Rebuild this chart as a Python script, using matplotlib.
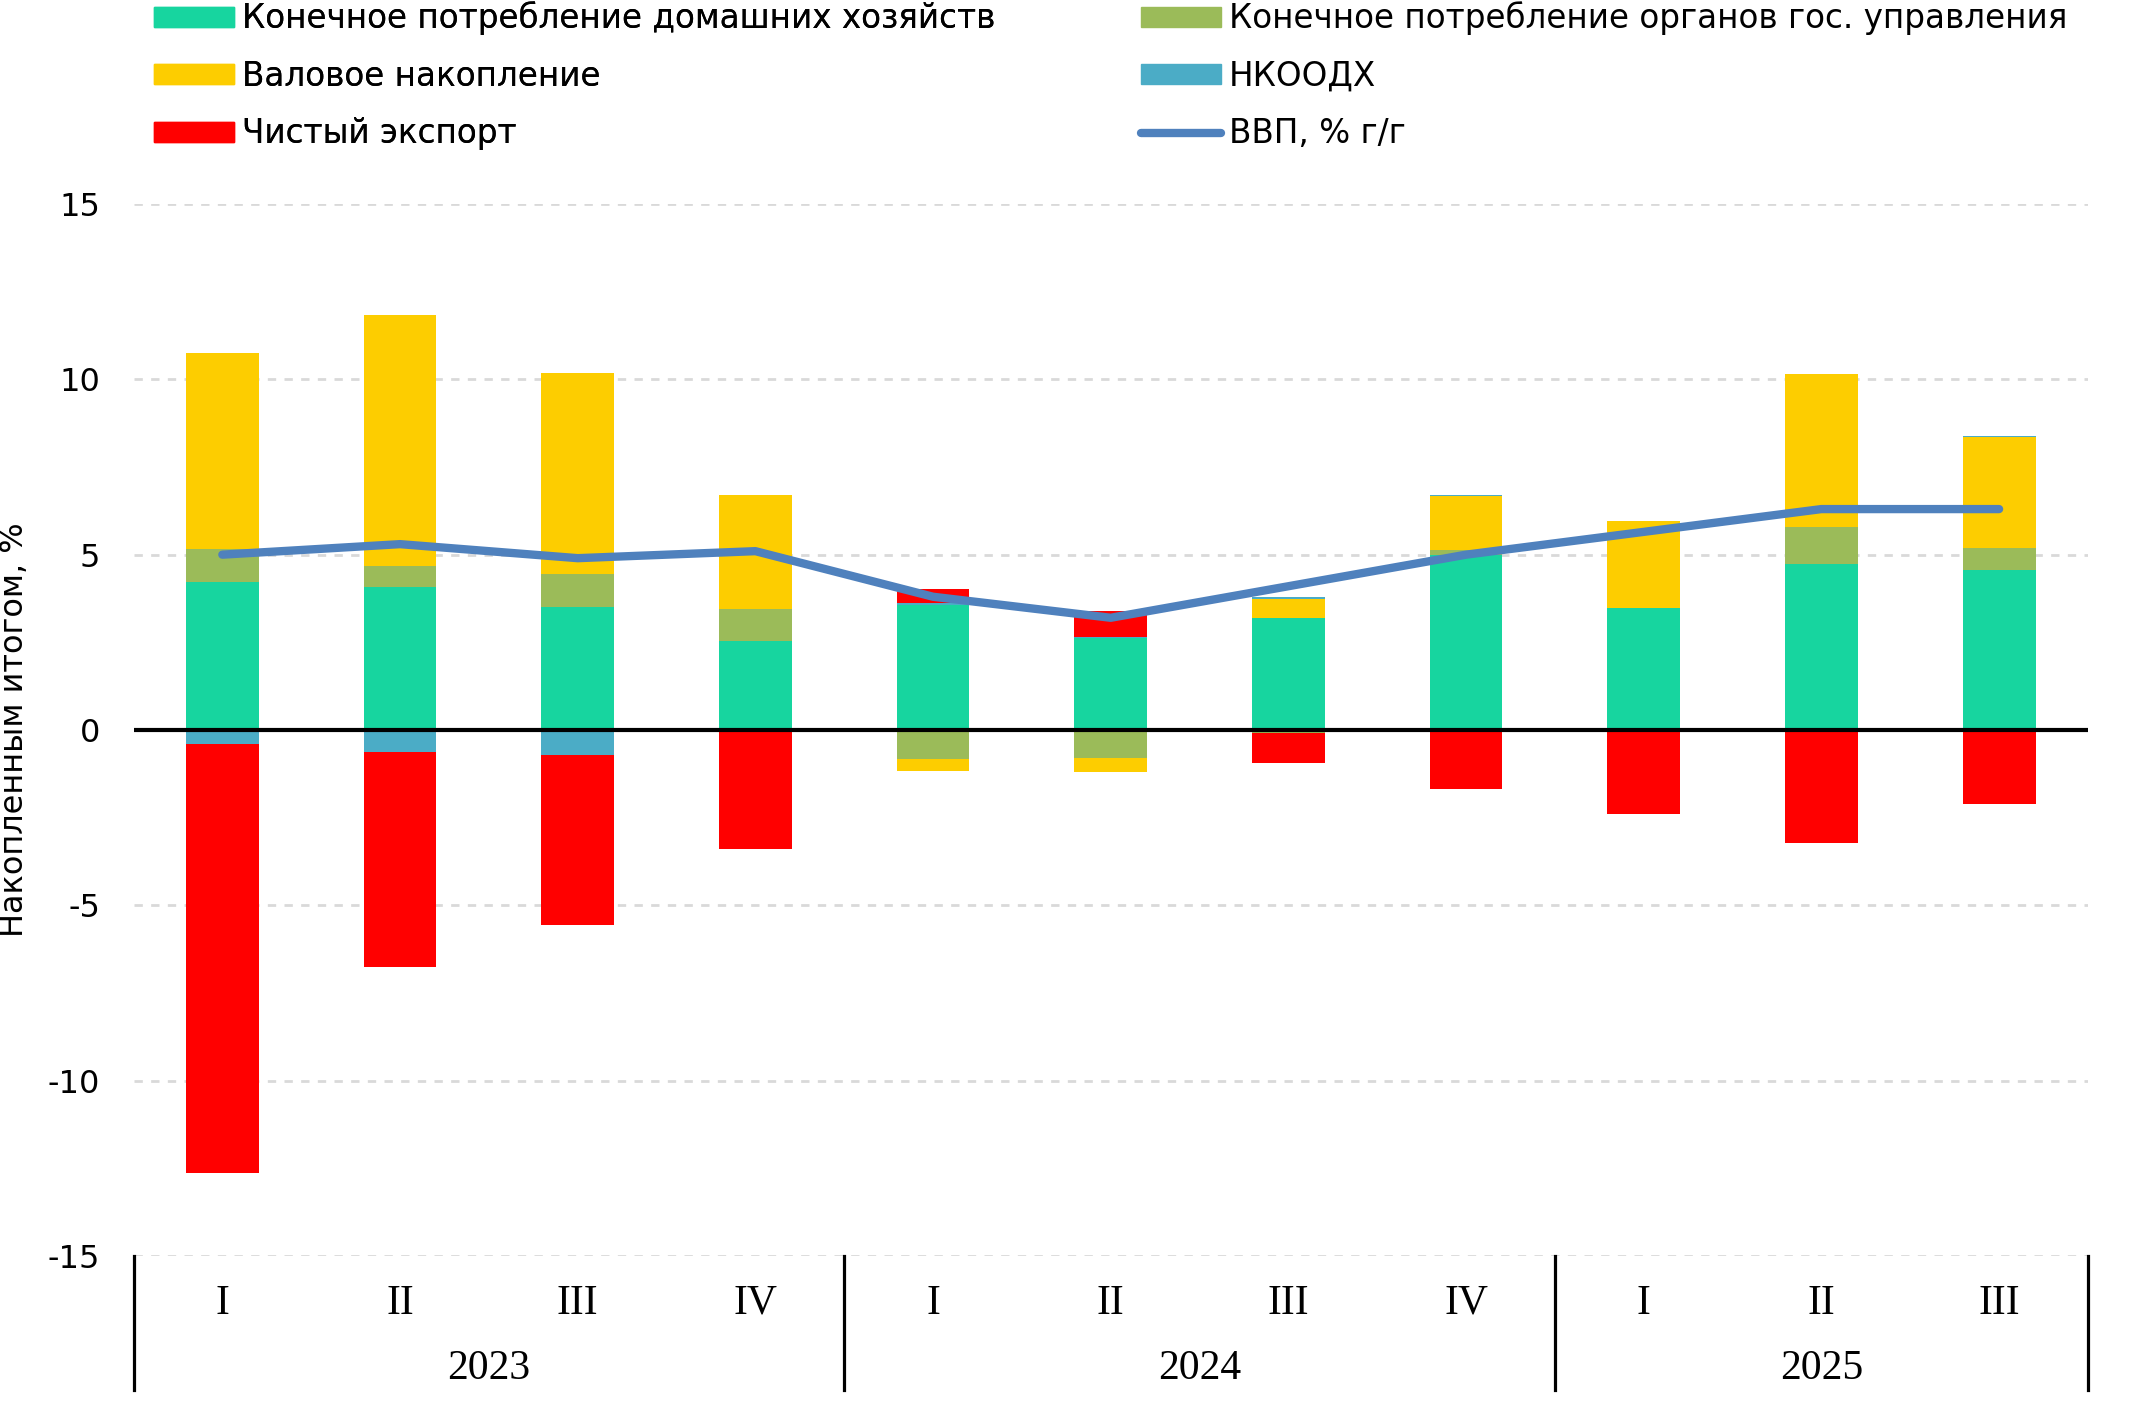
import numpy as np
import matplotlib.pyplot as plt
from matplotlib.patches import Patch
from matplotlib.lines import Line2D

plt.rcParams['font.family'] = ['DejaVu Sans']
plt.rcParams['axes.unicode_minus'] = False

quarters = ['I', 'II', 'III', 'IV', 'I', 'II', 'III', 'IV', 'I', 'II', 'III']
years = ['2023', '2024', '2025']
year_len = [4, 4, 3]

households = [4.23, 4.07, 3.50, 2.54, 3.56, 2.62, 3.19, 4.98, 3.47, 4.74, 4.57]
government = [0.94, 0.60, 0.94, 0.92, -0.83, -0.80, -0.08, 0.16, 0.0, 1.04, 0.61]
accumulation = [5.57, 7.17, 5.75, 3.24, -0.35, -0.41, 0.54, 1.54, 2.48, 4.36, 3.18]
nkoodh = [-0.40, -0.62, -0.71, -0.02, 0.05, 0.03, 0.05, 0.02, 0.02, 0.02, 0.03]
net_export = [-12.24, -6.15, -4.84, -3.38, 0.42, 0.73, -0.86, -1.68, -2.39, -3.22, -2.10]
gdp = [5.0, 5.3, 4.9, 5.1, 3.8, 3.2, 4.1, 5.0, 5.65, 6.3, 6.3]

labels = ['Конечное потребление домашних хозяйств',
          'Конечное потребление органов гос. управления',
          'Валовое накопление',
          'НКООДХ',
          'Чистый экспорт']
colors = ['#17D59F', '#9BBB59', '#FDCD00', '#4BACC6', '#FF0000']
line_color = '#4F81BD'

fig = plt.figure(figsize=(21.36, 14.11), dpi=100)
ax = fig.add_axes([0.0625, 0.1099, 0.915, 0.7455])

x = np.arange(len(quarters))
pos = np.zeros(len(x))
neg = np.zeros(len(x))
for vals, col in zip([households, government, accumulation, nkoodh, net_export], colors):
    v = np.array(vals)
    bottom = np.where(v >= 0, pos, neg)
    ax.bar(x, v, width=0.41, bottom=bottom, color=col, zorder=2)
    pos = pos + np.clip(v, 0, None)
    neg = neg + np.clip(v, None, 0)

ax.axhline(0, color='black', lw=3, zorder=3)
ax.plot(x, gdp, color=line_color, lw=6, solid_capstyle='round',
        solid_joinstyle='round', zorder=4)

ax.set_xlim(-0.5, len(x) - 0.5)
ax.set_ylim(-15, 15)
ax.set_yticks([-15, -10, -5, 0, 5, 10, 15])
ax.set_yticklabels(['-15', '-10', '-5', '0', '5', '10', '15'])
for yv in [-15, -10, -5, 5, 10, 15]:
    ax.axhline(yv, color='#D9D9D9', lw=2, linestyle=(0, (3, 3)), zorder=1)
ax.tick_params(axis='y', length=0, pad=24, labelsize=23)
ax.set_xticks([])
for s in ax.spines.values():
    s.set_visible(False)

# quarter and year labels below the axes
trans = ax.get_xaxis_transform()
for xi, q in zip(x, quarters):
    ax.text(xi, -0.045, q, transform=trans, ha='center', va='center',
            fontsize=30, family='Liberation Serif')
start = 0
seps = [-0.5]
for yr, n in zip(years, year_len):
    ax.text(start + (n - 1) / 2, -0.107, yr, transform=trans, ha='center',
            va='center', fontsize=30, family='Liberation Serif')
    start += n
    seps.append(start - 0.5)
for sx in seps:
    ax.plot([sx, sx], [0, -0.127], transform=trans, color='black', lw=2.3,
            clip_on=False)

fig.text(0.0066, 0.4827, 'Накопленным итогом, %', rotation=90,
         ha='center', va='center', fontsize=23)

handles = [Patch(color=c) for c in colors]
handles.append(Line2D([], [], color=line_color, lw=6, solid_capstyle='round'))
all_labels = labels + ['ВВП, % г/г']
col1 = [0, 2, 4]
col2 = [1, 3, 5]
leg_kw = dict(loc='upper left', frameon=False, fontsize=23.5, borderpad=0,
              borderaxespad=0, handlelength=2.45, handleheight=0.55,
              handletextpad=0.25, labelspacing=0.75)
leg1 = fig.legend([handles[i] for i in col1], [all_labels[i] for i in col1],
                  bbox_to_anchor=(0.072, 0.999), **leg_kw)
fig.add_artist(leg1)
fig.legend([handles[i] for i in col2], [all_labels[i] for i in col2],
           bbox_to_anchor=(0.534, 0.999), **leg_kw)

fig.savefig('out.png', dpi=100)
